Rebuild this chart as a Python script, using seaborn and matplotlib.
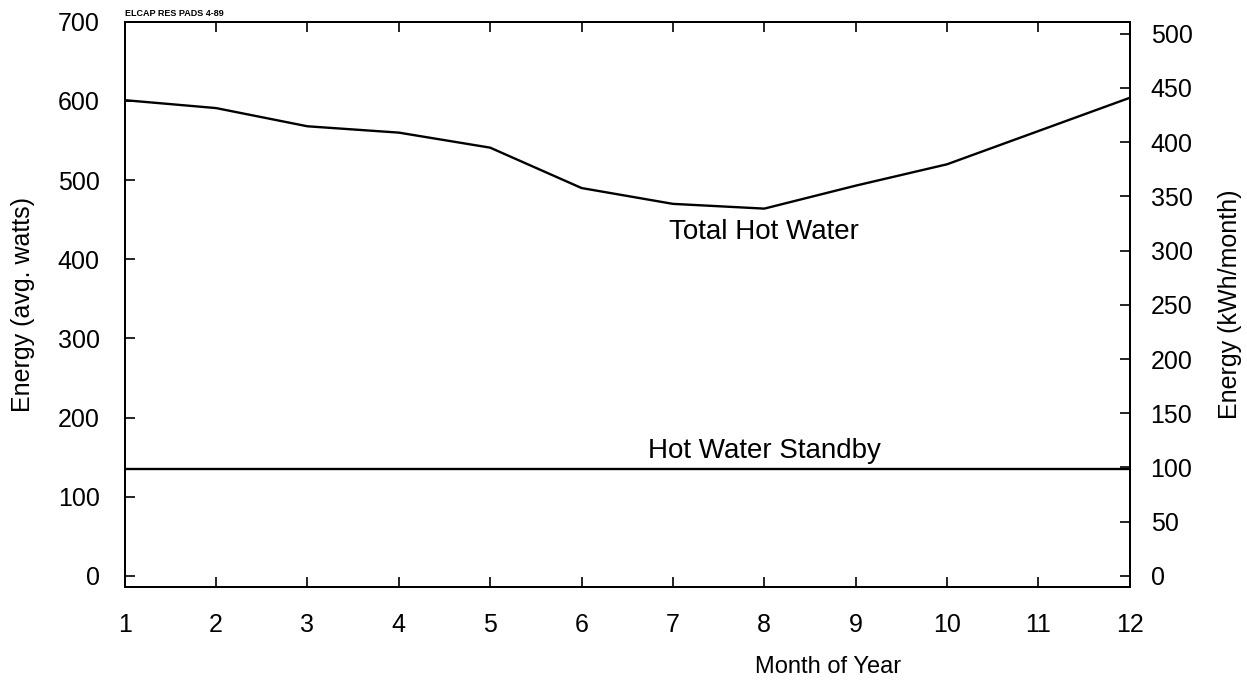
import matplotlib
matplotlib.use("Agg")
import matplotlib.pyplot as plt
import seaborn as sns
import pandas as pd

# Monthly residential hot-water energy, average watts
months = [1, 2, 3, 4, 5, 6, 7, 8, 9, 10, 11, 12]
total_hot_water = [601, 591, 568, 560, 541, 490, 470, 464, 493, 520, 562, 604]
hot_water_standby = [135, 135, 135, 135, 135, 135, 135, 135, 135, 135, 135, 135]

left_ticks = [0, 100, 200, 300, 400, 500, 600, 700]
right_ticks = [0, 50, 100, 150, 200, 250, 300, 350, 400, 450, 500]
WATTS_TO_KWH_MONTH = 0.73  # avg W -> kWh per month

df = pd.DataFrame({
    "month": months * 2,
    "energy": total_hot_water + hot_water_standby,
    "series": ["Total Hot Water"] * 12 + ["Hot Water Standby"] * 12,
})

sns.set_theme(style="ticks")
plt.rcParams["font.family"] = ["Liberation Sans", "DejaVu Sans"]
plt.rcParams["text.color"] = "black"
plt.rcParams["axes.labelcolor"] = "black"
plt.rcParams["xtick.color"] = "black"
plt.rcParams["ytick.color"] = "black"

fig = plt.figure(figsize=(12.47, 6.81), dpi=100)
ax = fig.add_axes([0.100, 0.138, 0.806, 0.830])

sns.lineplot(data=df, x="month", y="energy", units="series", estimator=None,
             color="black", linewidth=1.7, ax=ax, legend=False)

ax.set_xlim(1, 12)
ax.set_ylim(-14, 700)
ax.set_xticks(months)
ax.set_yticks(left_ticks)

for side in ["left", "right", "top", "bottom"]:
    ax.spines[side].set_visible(True)
    ax.spines[side].set_linewidth(1.4)
    ax.spines[side].set_color("black")

ax.tick_params(axis="x", direction="in", length=7, width=1.2, top=True,
               labelsize=18, pad=19)
ax.tick_params(axis="y", direction="in", length=7, width=1.2,
               labelsize=18, pad=18)

ax.set_xlabel("Month of Year", fontsize=17)
ax.xaxis.set_label_coords(0.70, -0.122)
ax.set_ylabel("Energy (avg. watts)", fontsize=18, labelpad=16)

ax2 = ax.twinx()
lo, hi = ax.get_ylim()
ax2.set_ylim(lo * WATTS_TO_KWH_MONTH, hi * WATTS_TO_KWH_MONTH)
ax2.set_yticks(right_ticks)
ax2.tick_params(axis="y", direction="in", length=7, width=1.2,
                labelsize=18, pad=15)
ax2.set_ylabel("Energy (kWh/month)", fontsize=18, labelpad=18)
for side in ["left", "right", "top", "bottom"]:
    ax2.spines[side].set_linewidth(1.4)
    ax2.spines[side].set_color("black")

ax.text(8.0, 434, "Total Hot Water", fontsize=20, ha="center", va="center")
ax.text(8.0, 158, "Hot Water Standby", fontsize=20, ha="center", va="center")
ax.text(0.0, 1.006, "ELCAP RES PADS 4-89", transform=ax.transAxes,
        fontsize=6.5, fontweight="bold", ha="left", va="bottom")

fig.savefig("out.png", dpi=100, facecolor="white")
